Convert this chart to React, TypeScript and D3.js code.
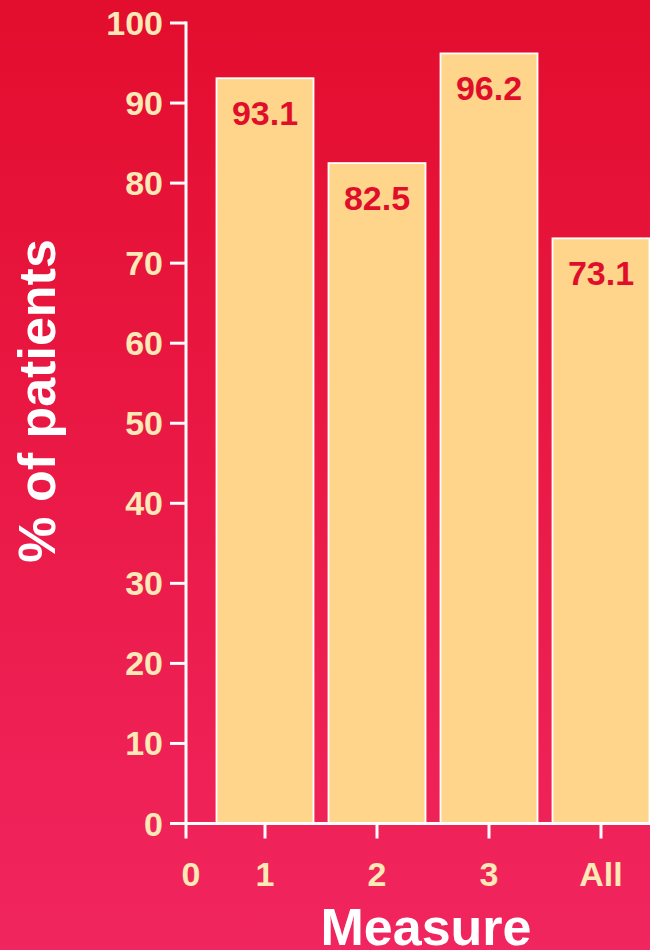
import React from "react";
import * as d3 from "d3";

const categories = ["1", "2", "3", "All"];
const values = [93.1, 82.5, 96.2, 73.1];
const valueLabels = ["93.1", "82.5", "96.2", "73.1"];
const yTicks = [0, 10, 20, 30, 40, 50, 60, 70, 80, 90, 100];
const originLabel = "0";

const W = 650;
const H = 950;
const FONT = "'Liberation Sans', Arial, Helvetica, sans-serif";
const CREAM = "#fde8b6";
const BAR = "#ffd58c";
const LABEL_RED = "#df0f2b";

export default function App() {
  const y = d3.scaleLinear().domain([0, 100]).range([823.5, 23]);
  const x = d3.scaleBand<string>().domain(categories).range([209, 657]).paddingInner(15 / 112).paddingOuter(7.5 / 112);
  const axisX = 186;
  const y0 = y(0);

  return (
    <svg width={W} height={H} style={{ position: "absolute", left: 0, top: 0 }} fontFamily={FONT}>
      <defs>
        <linearGradient id="bg" x1="0" y1="0" x2="0" y2="1">
          <stop offset="0%" stopColor="#e30d2d" />
          <stop offset="100%" stopColor="#f1255f" />
        </linearGradient>
      </defs>
      <rect x={0} y={0} width={W} height={H} fill="url(#bg)" />

      {/* bars */}
      {categories.map((c, i) => {
        const bx = x(c)!;
        const bw = x.bandwidth();
        return (
          <g key={c}>
            <rect x={bx} y={y(values[i])} width={bw} height={y0 - y(values[i])} fill={BAR} stroke="#ffffff" strokeWidth={1.8} />
            <text x={bx + bw / 2} y={y(values[i]) + 47} textAnchor="middle" fontSize={34} fontWeight="bold" fill={LABEL_RED}>
              {valueLabels[i]}
            </text>
          </g>
        );
      })}

      {/* y axis */}
      <line x1={axisX} x2={axisX} y1={y(100) - 1.5} y2={y0} stroke="#fff" strokeWidth={3} />
      {yTicks.map((t) => (
        <g key={t}>
          <line x1={axisX - 16} x2={axisX} y1={y(t)} y2={y(t)} stroke="#fff" strokeWidth={3} />
          <text x={163} y={y(t) + 12} textAnchor="end" fontSize={34} fontWeight="bold" fill={CREAM}>
            {t}
          </text>
        </g>
      ))}

      {/* x axis */}
      <line x1={axisX - 16} x2={W} y1={y0} y2={y0} stroke="#fff" strokeWidth={3} />
      <line x1={axisX} x2={axisX} y1={y0} y2={y0 + 15} stroke="#fff" strokeWidth={3} />
      <text x={axisX + 5} y={886} textAnchor="middle" fontSize={34} fontWeight="bold" fill={CREAM}>
        {originLabel}
      </text>
      {categories.map((c) => {
        const cx = x(c)! + x.bandwidth() / 2;
        return (
          <g key={c}>
            <line x1={cx} x2={cx} y1={y0} y2={y0 + 15} stroke="#fff" strokeWidth={3} />
            <text x={cx} y={886} textAnchor="middle" fontSize={34} fontWeight="bold" fill={CREAM}>
              {c}
            </text>
          </g>
        );
      })}

      {/* axis titles */}
      <text x={426} y={945} textAnchor="middle" fontSize={52} fontWeight="bold" fill="#fff">
        Measure
      </text>
      <text transform="translate(55,401) rotate(-90)" textAnchor="middle" fontSize={52} fontWeight="bold" fill="#fff">
        % of patients
      </text>
    </svg>
  );
}
